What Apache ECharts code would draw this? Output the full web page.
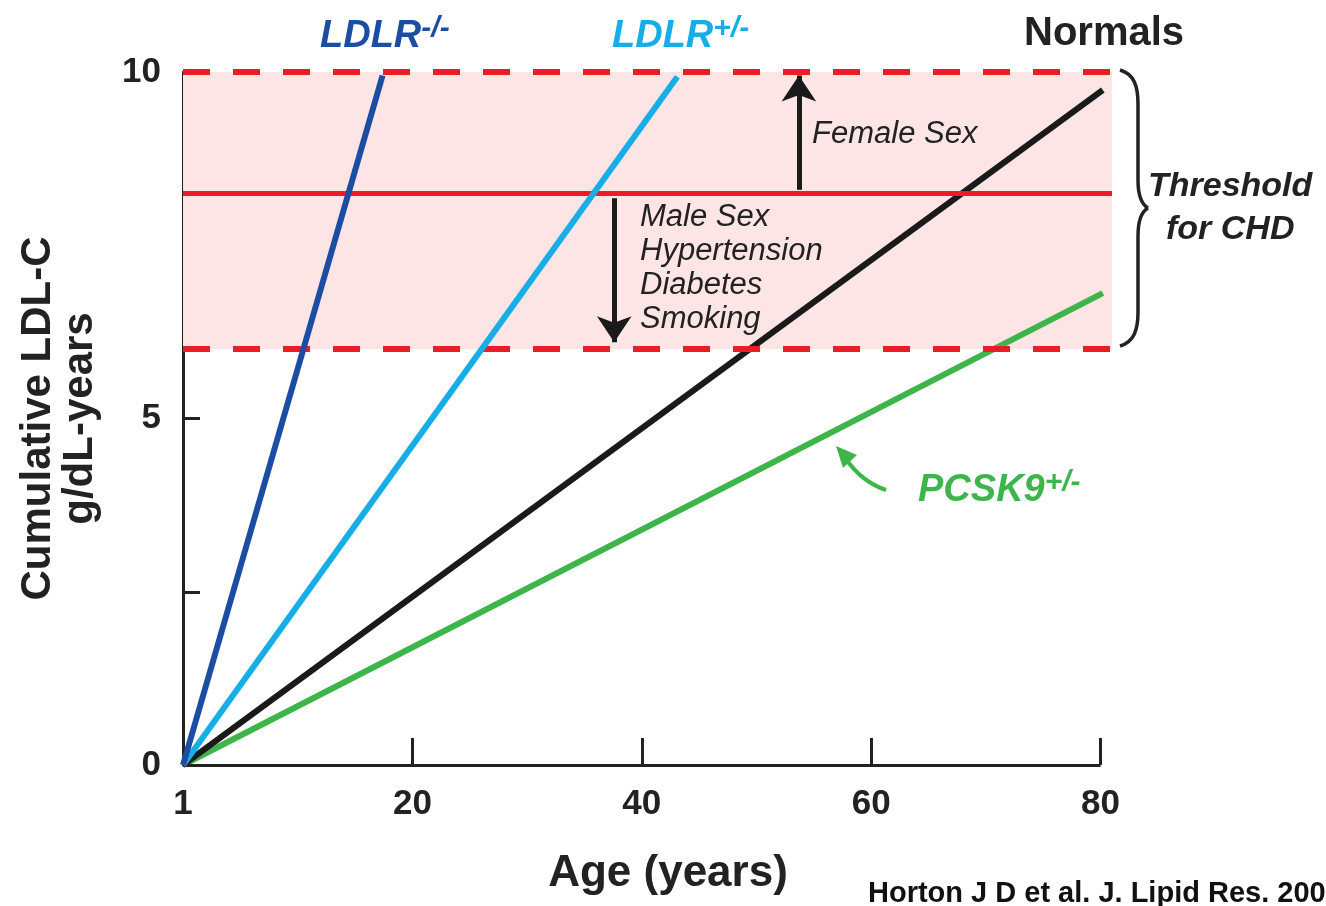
<!DOCTYPE html>
<html><head><meta charset="utf-8">
<script src="https://cdn.jsdelivr.net/npm/echarts@6/dist/echarts.min.js"></script>
<style>html,body{margin:0;padding:0;background:#fff;overflow:hidden}#c{width:1326px;height:906px}</style>
</head><body><div id="c"></div>
<script>
// ---- data ----
const seriesNames = ['LDLR-/-', 'LDLR+/-', 'Normals', 'PCSK9+/-'];
const ldlrHomo = [[0, 0], [17.4, 9.95]];
const ldlrHetero = [[0, 0], [43.1, 9.93]];
const normals = [[0, 0], [80.2, 9.74]];
const pcsk9 = [[0, 0], [80.2, 6.81]];
const xTickValues = [0, 20, 40, 60, 80];
const xTickLabels = ['1', '20', '40', '60', '80'];
const yTickValues = [0, 5, 10];
const yMinorTicks = [2.5, 5, 7.5];
const xAxisEnd = 80;
const thresholdUpper = 10;
const thresholdMid = 8.25;
const thresholdLower = 6;
const bandEndAge = 81;
const femaleArrow = [[53.7, 8.3], [53.7, 9.95]];
const maleArrow = [[37.6, 8.18], [37.6, 6.1]];

const RED = '#ec1c24';
const FONT = '"Liberation Sans", Arial, Helvetica, sans-serif';
const chart = echarts.init(document.getElementById('c'), null, {renderer: 'canvas'});

function lineSeries(name, data, color, z) {
  return {
    name, type: 'line', data, z, clip: false, symbol: 'none', animation: false, silent: true,
    lineStyle: {color, width: 6, cap: 'butt'}
  };
}
const braceStyle = {stroke: '#222', lineWidth: 3.5, fill: null};
function bez(x1, y1, cpx1, cpy1, cpx2, cpy2, x2, y2, style) {
  return {type: 'bezierCurve', z: 100, shape: {x1, y1, cpx1, cpy1, cpx2, cpy2, x2, y2}, style};
}
function seg(x1, y1, x2, y2, style) {
  return {type: 'line', z: 100, shape: {x1, y1, x2, y2}, style};
}
function supLabel(left, top, main, sup, color) {
  return {type: 'text', z: 100, left, top, style: {
    text: '{a|' + main + '}{s|' + sup + '}', fill: color,
    rich: {a: {fontFamily: FONT, fontStyle: 'italic', fontWeight: 'bold', fontSize: 38, fill: color, verticalAlign: 'bottom'},
           s: {fontFamily: FONT, fontStyle: 'italic', fontWeight: 'bold', fontSize: 30, fill: color, verticalAlign: 'top', padding: [0, 0, 12, 0]}}
  }};
}

const option = {
  backgroundColor: '#fff',
  animation: false,
  grid: {left: 183, right: 214, top: 72, bottom: 141, containLabel: false},
  xAxis: {
    type: 'value', min: 0, max: bandEndAge,
    name: 'Age (years)', nameLocation: 'middle', nameGap: 87,
    nameTextStyle: {fontFamily: FONT, fontWeight: 'bold', fontSize: 44, color: '#222', padding: [0, 0, 0, 41]},
    axisLine: {show: false},
    axisTick: {show: true, inside: true, length: 27, customValues: xTickValues.slice(1), lineStyle: {color: '#222', width: 3}},
    splitLine: {show: false},
    axisLabel: {
      margin: 22, fontFamily: FONT, fontWeight: 'bold', fontSize: 35, color: '#222',
      customValues: xTickValues,
      formatter: (v) => xTickLabels[xTickValues.indexOf(v)]
    }
  },
  yAxis: {
    type: 'value', min: 0, max: 10, interval: 2.5,
    name: 'Cumulative LDL-C\ng/dL-years', nameLocation: 'middle', nameGap: 82, nameRotate: 90,
    nameTextStyle: {fontFamily: FONT, fontWeight: 'bold', fontSize: 42, lineHeight: 42, color: '#222', align: 'center'},
    axisLine: {show: true, lineStyle: {color: '#222', width: 3}},
    axisTick: {show: true, inside: true, length: 17, customValues: yMinorTicks, lineStyle: {color: '#222', width: 3}},
    splitLine: {show: false},
    axisLabel: {
      margin: 22, fontFamily: FONT, fontWeight: 'bold', fontSize: 35, color: '#222',
      customValues: yTickValues,
      formatter: (v) => String(v)
    }
  },
  series: [
    {
      name: 'threshold', type: 'line', data: [], z: 1, clip: false, silent: true, animation: false,
      markArea: {
        silent: true,
        itemStyle: {color: '#fde5e5'},
        data: [[{coord: [0, thresholdLower]}, {coord: [bandEndAge, thresholdUpper]}]]
      },
      markLine: {
        silent: true, symbol: 'none', label: {show: false}, animation: false,
        data: [
          [{coord: [0, thresholdUpper], lineStyle: {color: RED, width: 6, type: [27, 23]}}, {coord: [bandEndAge, thresholdUpper]}],
          [{coord: [0, thresholdMid], lineStyle: {color: RED, width: 5, type: 'solid'}}, {coord: [bandEndAge, thresholdMid]}],
          [{coord: [0, thresholdLower], lineStyle: {color: RED, width: 6, type: [27, 23]}}, {coord: [bandEndAge, thresholdLower]}],
          [{coord: [0, 0], lineStyle: {color: '#222', width: 3, type: 'solid'}}, {coord: [xAxisEnd, 0]}]
        ]
      }
    },
    {
      name: 'arrows', type: 'line', data: [], z: 2, clip: false, silent: true, animation: false,
      markLine: {
        silent: true, symbol: ['none', 'arrow'], symbolSize: 26, label: {show: false}, animation: false,
        lineStyle: {color: '#1a1a1a', width: 5, type: 'solid'},
        data: [
          [{coord: femaleArrow[0]}, {coord: femaleArrow[1]}],
          [{coord: maleArrow[0]}, {coord: maleArrow[1]}]
        ]
      }
    },
    lineSeries(seriesNames[3], pcsk9, '#3db54a', 3),
    lineSeries(seriesNames[2], normals, '#1a1a1a', 4),
    lineSeries(seriesNames[1], ldlrHetero, '#17ade6', 5),
    lineSeries(seriesNames[0], ldlrHomo, '#1b4ea3', 6)
  ],
  graphic: [
    supLabel(320, 14, 'LDLR', '-/-', '#1b4ea3'),
    supLabel(612, 14, 'LDLR', '+/-', '#17ade6'),
    {type: 'text', z: 100, left: 1024, top: 14, style: {
      text: 'Normals', fill: '#222', font: 'bold 40px ' + FONT
    }},
    supLabel(918, 468, 'PCSK9', '+/-', '#3db54a'),
    {type: 'text', z: 100, left: 812, top: 119, style: {
      text: 'Female Sex', fill: '#222', font: 'italic 31px ' + FONT
    }},
    {type: 'text', z: 100, left: 640, top: 200, style: {
      text: 'Male Sex\nHypertension\nDiabetes\nSmoking', fill: '#222', font: 'italic 31px ' + FONT, lineHeight: 34
    }},
    {type: 'text', z: 100, left: 1148, top: 170, style: {
      text: 'Threshold', fill: '#222', font: 'italic bold 34px ' + FONT
    }},
    {type: 'text', z: 100, left: 1166, top: 213, style: {
      text: 'for CHD', fill: '#222', font: 'italic bold 34px ' + FONT
    }},
    {type: 'text', z: 100, left: 868, top: 879, style: {
      text: 'Horton J D et al. J. Lipid Res. 2009', fill: '#111', font: 'bold 29px ' + FONT
    }},
    // brace
    bez(1120, 70, 1134, 74, 1138, 86, 1138, 104, braceStyle),
    seg(1138, 104, 1138, 180, braceStyle),
    bez(1138, 180, 1138, 196, 1141, 204, 1148, 208, braceStyle),
    bez(1148, 208, 1141, 212, 1138, 220, 1138, 236, braceStyle),
    seg(1138, 236, 1138, 312, braceStyle),
    bez(1138, 312, 1138, 330, 1134, 342, 1120, 346, braceStyle),
    // curved arrow for PCSK9
    {type: 'bezierCurve', z: 100, shape: {x1: 886, y1: 490, cpx1: 862, cpy1: 482, x2: 846, y2: 459}, style: {stroke: '#3db54a', lineWidth: 4, fill: null}},
    {type: 'polygon', z: 100, shape: {points: [[836, 446], [857, 455], [843, 468]]}, style: {fill: '#3db54a'}}
  ]
};
chart.setOption(option);
</script>
</body></html>
